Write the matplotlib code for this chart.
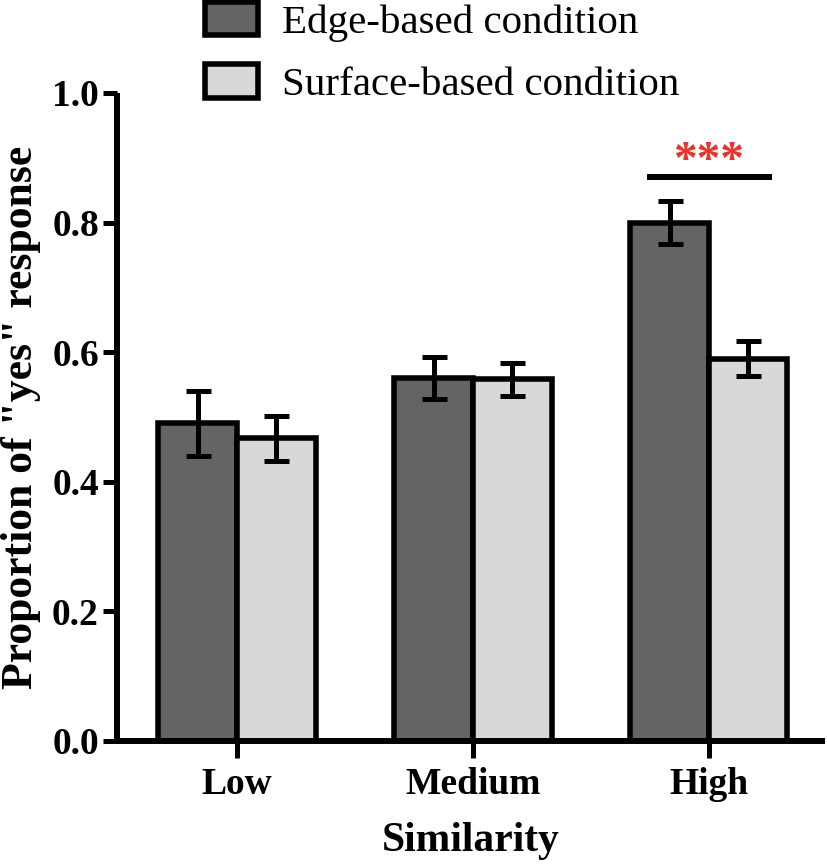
import numpy as np
import matplotlib
matplotlib.use("Agg")
from matplotlib import pyplot as plt

plt.rcParams['font.family'] = ['Liberation Serif', 'DejaVu Serif']

similitud = ["Low", "Medium", "High"]
edge_mean = [0.49, 0.56, 0.80]
edge_err = [0.05, 0.033, 0.033]
surface_mean = [0.467, 0.558, 0.59]
surface_err = [0.035, 0.026, 0.027]
etiquetas = ["Edge-based condition", "Surface-based condition"]
yticks = [0.0, 0.2, 0.4, 0.6, 0.8, 1.0]
sig_y = 0.87
sig_text = "***"

fig = plt.figure(figsize=(8.27, 8.65), dpi=100)
ax = fig.add_axes([0.1415, 0.1434, 0.856, 0.7491])

x = np.arange(len(similitud))
ancho = 1 / 3
lw = 4

b1 = ax.bar(x - ancho / 2, edge_mean, ancho, color='#646464', edgecolor='black',
            linewidth=lw, label=etiquetas[0], zorder=2)
b2 = ax.bar(x + ancho / 2, surface_mean, ancho, color='#d8d8d8', edgecolor='black',
            linewidth=lw, label=etiquetas[1], zorder=2)
ax.errorbar(x - ancho / 2, edge_mean, yerr=edge_err, fmt='none', ecolor='black',
            elinewidth=3.6, capsize=9, capthick=3.6, zorder=3)
ax.errorbar(x + ancho / 2, surface_mean, yerr=surface_err, fmt='none', ecolor='black',
            elinewidth=3.6, capsize=9, capthick=3.6, zorder=3)

# linea de significancia sobre High
ax.plot([x[2] - 0.263, x[2] + 0.267], [sig_y, sig_y], color='black', lw=4.3,
        solid_capstyle='butt', clip_on=False)
ax.text(x[2], sig_y + 0.006, sig_text, color='#e8322a', fontsize=34,
        fontweight='bold', ha='center', va='baseline')

ax.set_xlim(-0.508, 2.492)
ax.set_ylim(0, 1.0)
ax.set_yticks(yticks)
ax.set_yticklabels(["%.1f" % v for v in yticks])
ax.set_xticks(x)
ax.set_xticklabels(similitud)

for s in ['top', 'right']:
    ax.spines[s].set_visible(False)
for s in ['left', 'bottom']:
    ax.spines[s].set_linewidth(4.3)
    ax.spines[s].set_capstyle('butt')

ax.tick_params(axis='y', direction='out', length=10, width=3.6, pad=3, labelsize=27)
ax.tick_params(axis='x', direction='out', length=12, width=3.6, pad=7, labelsize=27)
for t in ax.get_xticklabels() + ax.get_yticklabels():
    t.set_fontweight('bold')

ax.set_xlabel("Similarity", fontsize=30, fontweight='bold', labelpad=14)
ax.set_ylabel('Proportion of "yes" response', fontsize=31.5, fontweight='bold', labelpad=8)

fig.legend(handles=[b1, b2], labels=etiquetas, loc='upper left',
           bbox_to_anchor=(205 / 827, 0.998), frameon=False, fontsize=29.5,
           handlelength=1.3, handleheight=0.88, handletextpad=0.58,
           labelspacing=0.55, borderpad=0.0, borderaxespad=0.0)

fig.savefig("out.png", dpi=100)
